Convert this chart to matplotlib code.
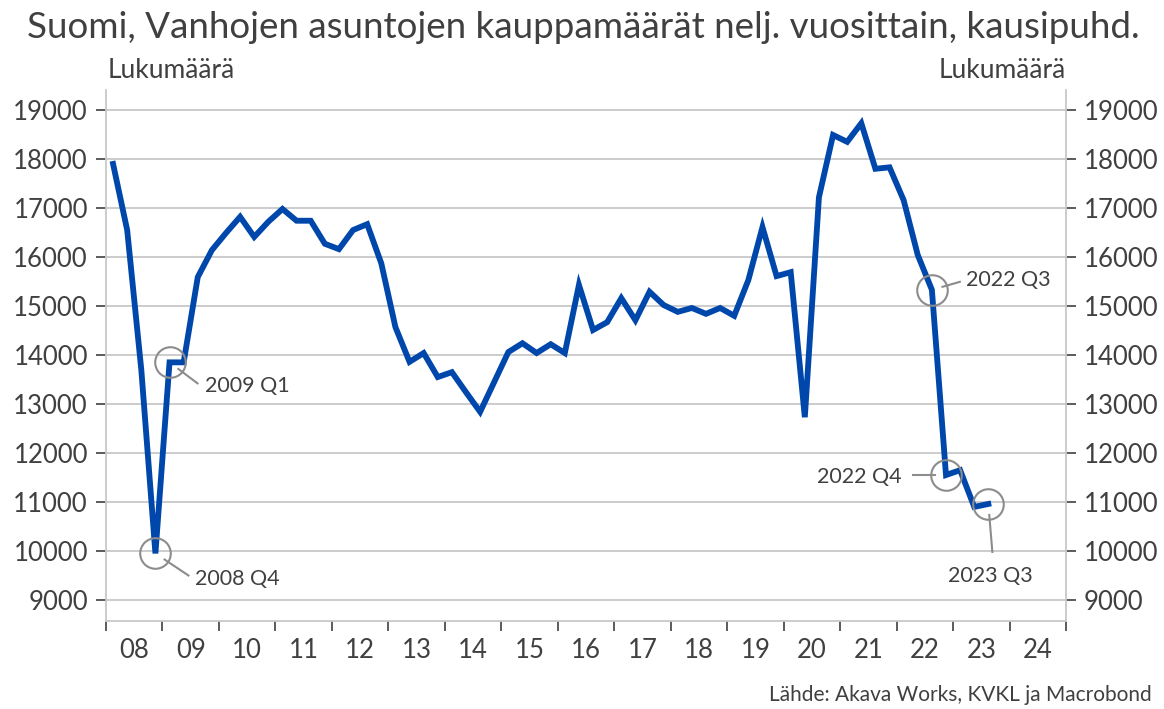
import matplotlib
matplotlib.use("Agg")
import matplotlib.pyplot as plt
from matplotlib.lines import Line2D
import numpy as np

years = list(range(2008, 2024))
values = [
    17900, 16550, 13700, 9950,
    13850, 13850, 15590, 16140,
    16490, 16820, 16410, 16720,
    16980, 16740, 16740, 16270,
    16160, 16550, 16670, 15870,
    14570, 13860, 14040, 13550,
    13650, 13240, 12840, 13450,
    14060, 14240, 14040, 14220,
    14040, 15430, 14510, 14670,
    15160, 14710, 15290, 15020,
    14880, 14960, 14840, 14960,
    14800, 15530, 16610, 15610,
    15690, 12730, 17220, 18490,
    18350, 18730, 17800, 17830,
    17160, 16040, 15330, 11550,
    11650, 10900, 10960,
]
year_labels = ["08", "09", "10", "11", "12", "13", "14", "15", "16",
               "17", "18", "19", "20", "21", "22", "23", "24"]
yticks = list(range(9000, 19001, 1000))
annotations = [
    ("2008 Q4", 2008, 4),
    ("2009 Q1", 2009, 1),
    ("2022 Q3", 2022, 3),
    ("2022 Q4", 2022, 4),
    ("2023 Q3", 2023, 3),
]

FONT = "Lato"
plt.rcParams['font.family'] = [FONT, 'DejaVu Sans']
TXT = "#404040"
GRID = "#c8c8c8"
BLUE = "#0047AB"

W, H = 1164, 709
fig = plt.figure(figsize=(W / 100, H / 100), dpi=100)
x0, x1 = 106, 1066
ytop, ybot = 90, 621
ax = fig.add_axes([x0 / W, (H - ybot) / H, (x1 - x0) / W, (ybot - ytop) / H])

n = len(values)
xs = np.array([2008 + (i + 0.5) / 4 for i in range(n)])
ax.plot(xs, values, color=BLUE, lw=4.2, solid_joinstyle='miter', zorder=3)

ax.set_xlim(2008, 2025)
ymin = 9000 - (ybot - 600) / 49 * 1000
ymax = 19000 + (110 - ytop) / 49 * 1000
ax.set_ylim(ymin, ymax)

ax.set_yticks(yticks)
ax.set_yticklabels([str(v) for v in yticks])
ax.grid(axis='y', color=GRID, lw=1.3, zorder=0)
ax.tick_params(axis='y', which='both', labelsize=18.5, labelcolor=TXT, color="#404040",
               length=7, width=1.2, direction='out', left=True, right=True,
               labelleft=True, labelright=True, pad=6)

ax.set_xticks(np.arange(2008, 2026, 1))
ax.set_xticklabels([])
ax.set_xticks(np.arange(2008.5, 2025, 1), minor=True)
ax.set_xticklabels(year_labels, minor=True)
ax.tick_params(axis='x', which='major', length=7, width=1.2, color="#404040", direction='out')
ax.tick_params(axis='x', which='minor', length=0, labelsize=18.5, labelcolor=TXT, pad=12)

for s in ['left', 'right', 'bottom']:
    ax.spines[s].set_color("#c8c8c8")
    ax.spines[s].set_linewidth(1.3)
ax.spines['top'].set_visible(False)

def qx(y, q):
    return y + (q - 0.5) / 4

def val(y, q):
    return values[(y - 2008) * 4 + (q - 1)]

offsets = {
    "2008 Q4": ((40, -26), 'left', 'center', (33, -22)),
    "2009 Q1": ((35, -24), 'left', 'center', (28, -21)),
    "2022 Q3": ((34, 10), 'left', 'center', (28, 8)),
    "2022 Q4": ((-44, -2), 'right', 'center', (-33, 0)),
    "2023 Q3": ((2, -72), 'center', 'center', (4, -48)),
}
inv = fig.transFigure.inverted()
for label, y, q in annotations:
    px, py = qx(y, q), val(y, q)
    ax.plot(px, py, 'o', ms=22, mfc='none', mec='#8c8c8c', mew=1.5, zorder=4)
    (tx, ty), ha, va, (lx, ly) = offsets[label]
    ax.annotate(label, xy=(px, py), xytext=(tx, ty), textcoords='offset pixels',
                ha=ha, va=va, fontsize=15.5, color=TXT, zorder=5)
    vec = np.array([lx, ly], dtype=float)
    d = vec / np.linalg.norm(vec)
    p0 = ax.transData.transform((px, py))
    a = inv.transform(p0 + d * 11)
    b = inv.transform(p0 + vec)
    fig.add_artist(Line2D([a[0], b[0]], [a[1], b[1]], color='#8c8c8c', lw=1.5, zorder=4))

fig.text(27 / W, 1 - 28 / H, "Suomi, Vanhojen asuntojen kauppamäärät nelj. vuosittain, kausipuhd.",
         fontsize=26.5, color=TXT, ha='left', va='center')
fig.text(108 / W, 1 - 70 / H, "Lukumäärä", fontsize=19, color=TXT, ha='left', va='center')
fig.text(1066 / W, 1 - 70 / H, "Lukumäärä", fontsize=19, color=TXT, ha='right', va='center')
fig.text(1152 / W, 1 - 695 / H, "Lähde: Akava Works, KVKL ja Macrobond", fontsize=15,
         color=TXT, ha='right', va='center')

fig.savefig("out.png", dpi=100)
